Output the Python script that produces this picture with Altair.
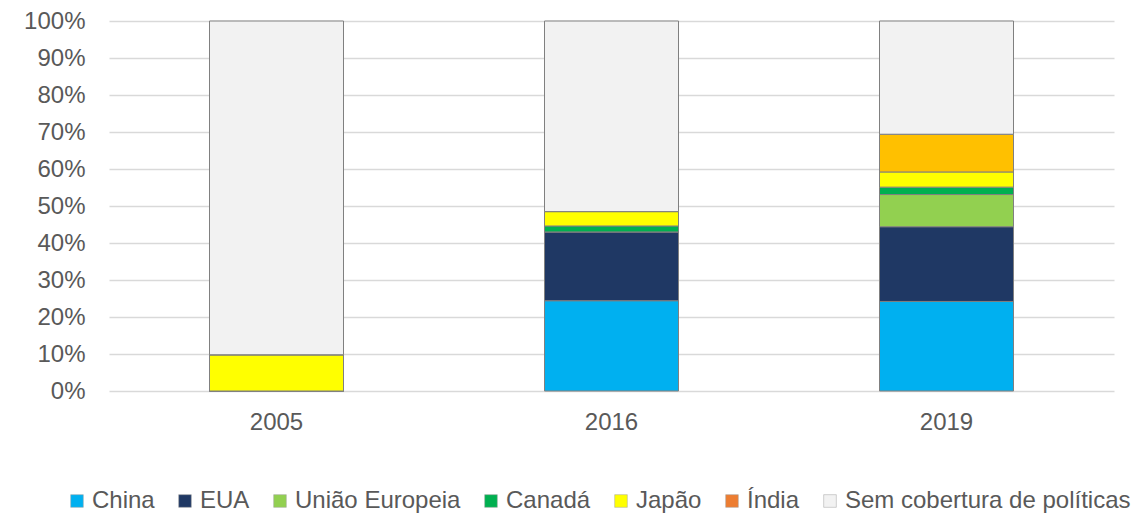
import altair as alt
import pandas as pd

years = ["2005", "2016", "2019"]
series = ["China", "EUA", "União Europeia", "Canadá", "Japão", "Outros", "Índia",
          "Sem cobertura de políticas"]
colors = ["#00B0F0", "#1F3864", "#92D050", "#00B050", "#FFFF00", "#FFC000", "#ED7D31",
          "#F2F2F2"]
values = {
    "China":                      [0.0, 24.4, 24.2],
    "EUA":                        [0.0, 18.6, 20.2],
    "União Europeia":             [0.0, 0.0, 8.7],
    "Canadá":                     [0.0, 1.6, 2.0],
    "Japão":                      [9.8, 3.9, 4.1],
    "Outros":                     [0.0, 0.0, 10.2],
    "Índia":                      [0.0, 0.0, 0.0],
    "Sem cobertura de políticas": [90.2, 51.5, 30.6],
}
legend_items = ["China", "EUA", "União Europeia", "Canadá", "Japão", "Índia",
                "Sem cobertura de políticas"]

rows = []
for si, s in enumerate(series):
    for yi, yr in enumerate(years):
        rows.append({"ano": yr, "serie": s, "valor": values[s][yi], "ordem": si})
df = pd.DataFrame(rows)

font = "Liberation Sans"
fs = 24
chart = alt.Chart(df).mark_bar(stroke="#808080", strokeWidth=1).encode(
    x=alt.X("ano:N", sort=years, title=None,
            scale=alt.Scale(paddingInner=0.6, paddingOuter=0.3),
            axis=alt.Axis(labelAngle=0, labelFontSize=fs, labelColor="#595959",
                          labelFont=font, ticks=False, domain=False, labelPadding=19,
                          grid=False)),
    y=alt.Y("valor:Q", stack="zero", title=None,
            scale=alt.Scale(domain=[0, 100], nice=False, zero=True),
            axis=alt.Axis(values=list(range(0, 101, 10)), labelExpr="datum.value + '%'",
                          labelFontSize=fs, labelColor="#595959", labelFont=font,
                          ticks=False, domain=False, labelPadding=24,
                          gridColor="#D9D9D9", gridWidth=1.5)),
    color=alt.Color("serie:N", title=None,
                    scale=alt.Scale(domain=series, range=colors),
                    legend=alt.Legend(orient="none", legendX=-44, legendY=468,
                                      direction="horizontal", values=legend_items,
                                      symbolType="square", symbolSize=160,
                                      symbolStrokeColor="#A0A0A0", symbolStrokeWidth=0.5,
                                      labelFontSize=fs, labelColor="#595959",
                                      labelFont=font, columnPadding=18, labelOffset=3,
                                      labelLimit=500, columns=7)),
    order=alt.Order("ordem:Q", sort="ascending"),
).properties(
    width=1005, height=370,
    autosize=alt.AutoSizeParams(type="none"),
    padding={"left": 101, "top": 13, "right": 26, "bottom": 123},
).configure_view(stroke=None)

chart.save("out.html", embed_options={"renderer": "svg", "actions": False})
